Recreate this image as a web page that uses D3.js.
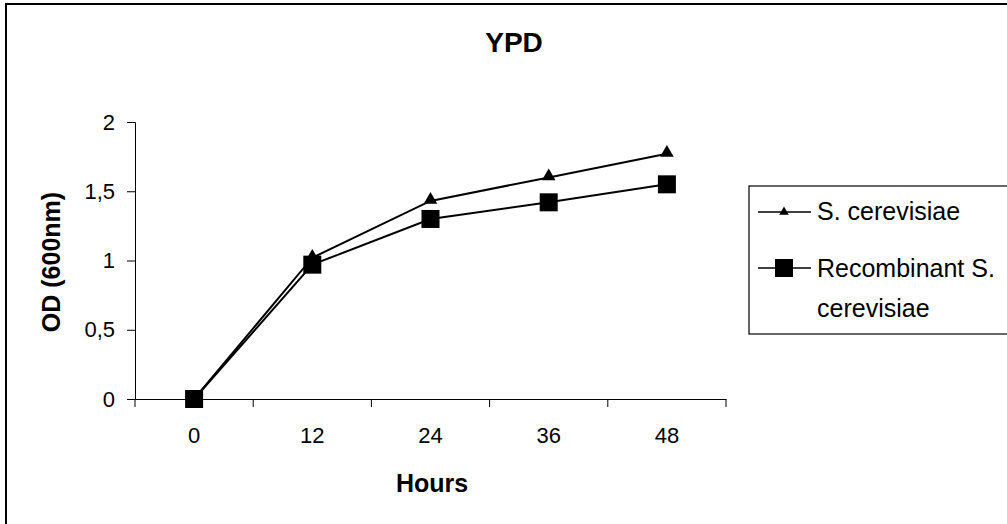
<!DOCTYPE html>
<html>
<head>
<meta charset="utf-8">
<script src="https://cdn.jsdelivr.net/npm/d3@7"></script>
<style>
  body { margin: 0; background: #fff; }
  text { font-family: "Liberation Sans", Arial, sans-serif; }
</style>
</head>
<body>
<svg id="chart"></svg>
<script>
// データ
var hours = ["0", "12", "24", "36", "48"];
var yTicks = [0, 0.5, 1, 1.5, 2];
var cerevisiae = [0, 1.02, 1.43, 1.60, 1.77];
var recombinant = [0, 0.97, 1.30, 1.42, 1.55];
var seriesNames = ["S. cerevisiae", "Recombinant S. cerevisiae"];

var size = { width: 1007, height: 524 };
var margin = { top: 122, right: 281, bottom: 125, left: 135 };
var width = size.width - margin.left - margin.right;
var height = size.height - margin.top - margin.bottom;

var svg = d3.select("#chart")
  .attr("width", size.width)
  .attr("height", size.height);

// 外枠
svg.append("rect")
  .attr("x", 6).attr("y", 4)
  .attr("width", 1010).attr("height", 530)
  .attr("fill", "none").attr("stroke", "#000").attr("stroke-width", 2);

svg.append("text")
  .attr("x", 514).attr("y", 52)
  .attr("text-anchor", "middle")
  .style("font-size", "28px").style("font-weight", "bold")
  .text("YPD");

var g = svg.append("g")
  .attr("transform", "translate(" + margin.left + "," + margin.top + ")");

var x = d3.scaleBand().domain(hours).range([0, width]);
var y = d3.scaleLinear().domain([0, 2]).range([height, 0]);

var fmt = function(d){ return String(d).replace(".", ","); };

var yAxis = g.append("g")
  .call(d3.axisLeft(y).tickValues(yTicks).tickFormat(fmt).tickSize(8).tickPadding(12));
yAxis.select(".domain").attr("stroke", "#000");
yAxis.selectAll("text").style("font-size", "22px").attr("fill", "#000");

var xAxis = g.append("g")
  .attr("transform", "translate(0," + height + ")")
  .call(d3.axisBottom(x).tickSize(0).tickPadding(28));
xAxis.select(".domain").attr("stroke", "#000");
xAxis.selectAll("text").style("font-size", "22px").attr("fill", "#000");

// バンド境界の目盛り
var bounds = hours.map(function(h){ return x(h); }).concat([width]);
g.selectAll(".xtick")
  .data(bounds)
  .enter().append("line")
  .attr("x1", function(d){ return d; }).attr("x2", function(d){ return d; })
  .attr("y1", height).attr("y2", height + 8)
  .attr("stroke", "#000");

svg.append("text")
  .attr("transform", "translate(60,262) rotate(-90)")
  .attr("text-anchor", "middle")
  .style("font-size", "25px").style("font-weight", "bold")
  .text("OD (600nm)");

svg.append("text")
  .attr("x", 432).attr("y", 492)
  .attr("text-anchor", "middle")
  .style("font-size", "25px").style("font-weight", "bold")
  .text("Hours");

var line = d3.line()
  .x(function(d, i){ return x(hours[i]) + x.bandwidth() / 2; })
  .y(function(d){ return y(d); });

[cerevisiae, recombinant].forEach(function(vals){
  g.append("path").datum(vals)
    .attr("d", line)
    .attr("fill", "none").attr("stroke", "#000").attr("stroke-width", 2);
});

var tri = d3.symbol().type(d3.symbolTriangle).size(80);

g.selectAll(".tri").data(cerevisiae).enter().append("path")
  .attr("d", tri)
  .attr("transform", function(d, i){ return "translate(" + (x(hours[i]) + x.bandwidth() / 2) + "," + (y(d) - 1) + ")"; })
  .attr("fill", "#000");

g.selectAll(".sq").data(recombinant).enter().append("rect")
  .attr("x", function(d, i){ return x(hours[i]) + x.bandwidth() / 2 - 9; })
  .attr("y", function(d){ return y(d) - 9; })
  .attr("width", 18).attr("height", 18)
  .attr("fill", "#000");

// 凡例
var legend = svg.append("g");
legend.append("rect")
  .attr("x", 749).attr("y", 186)
  .attr("width", 300).attr("height", 148)
  .attr("fill", "none").attr("stroke", "#000").attr("stroke-width", 1.2);

var ly = [212, 268];
ly.forEach(function(yy){
  legend.append("line")
    .attr("x1", 758).attr("x2", 811).attr("y1", yy).attr("y2", yy)
    .attr("stroke", "#000").attr("stroke-width", 1.5);
});
legend.append("path").attr("d", d3.symbol().type(d3.symbolTriangle).size(40))
  .attr("transform", "translate(784," + ly[0] + ")").attr("fill", "#000");
legend.append("rect").attr("x", 775).attr("y", ly[1] - 9).attr("width", 18).attr("height", 18).attr("fill", "#000");

legend.append("text").attr("x", 817).attr("y", ly[0] + 8)
  .style("font-size", "25px").text(seriesNames[0]);
legend.append("text").attr("x", 817).attr("y", ly[1] + 9)
  .style("font-size", "25px").text("Recombinant S.");
legend.append("text").attr("x", 817).attr("y", ly[1] + 49)
  .style("font-size", "25px").text("cerevisiae");
</script>
</body>
</html>
